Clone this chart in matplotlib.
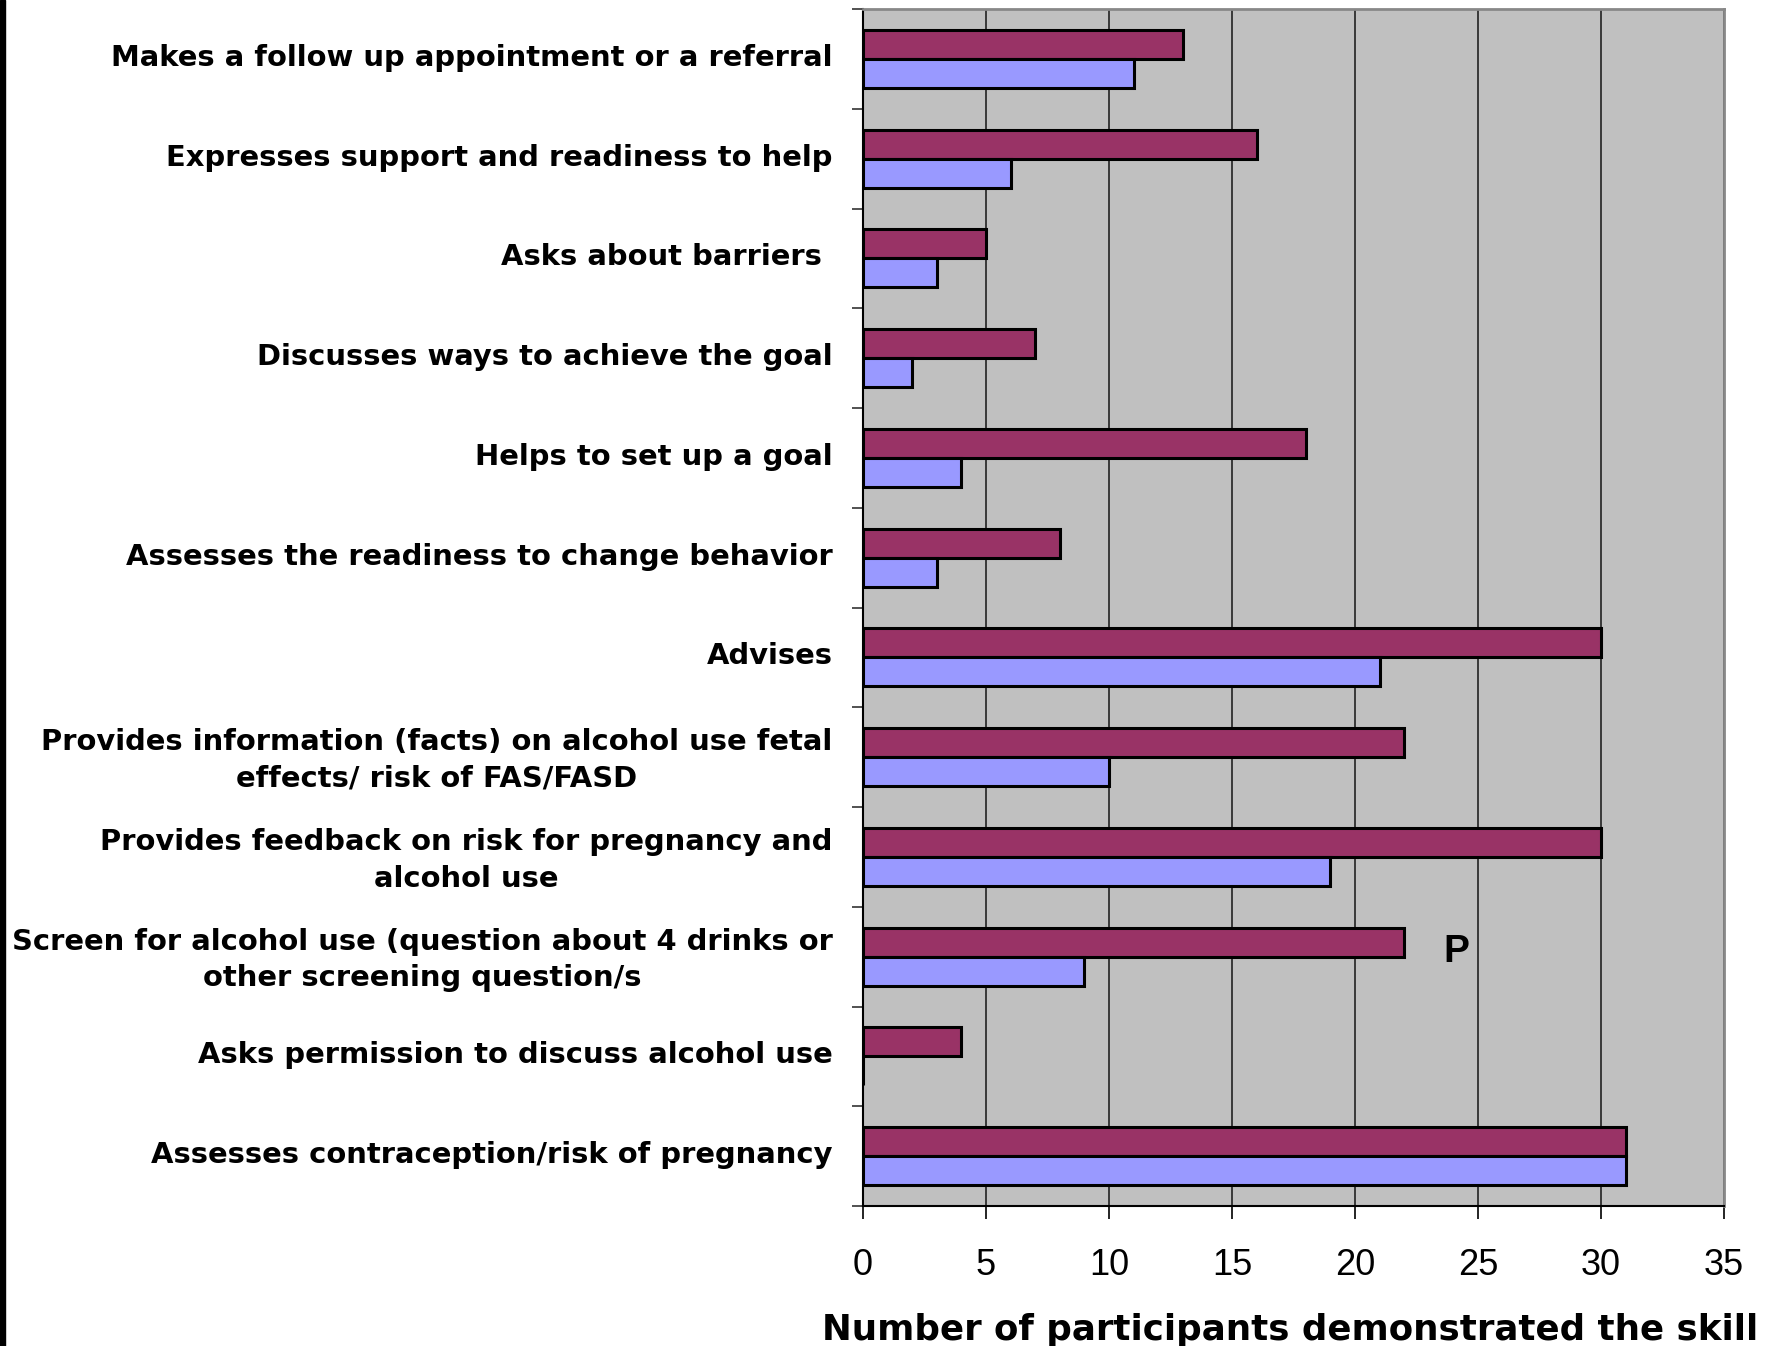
import matplotlib
matplotlib.use("Agg")
import matplotlib.pyplot as plt
from matplotlib.patches import Rectangle
from matplotlib.transforms import ScaledTranslation
import numpy as np

plt.rcParams["font.family"] = ["Liberation Sans", "DejaVu Sans"]

# bottom to top
skills = [
    "Assesses contraception/risk of pregnancy",
    "Asks permission to discuss alcohol use",
    "Screen for alcohol use (question about 4 drinks or\nother screening question/s",
    "Provides feedback on risk for pregnancy and\nalcohol use",
    "Provides information (facts) on alcohol use fetal\neffects/ risk of FAS/FASD",
    "Advises",
    "Assesses the readiness to change behavior",
    "Helps to set up a goal",
    "Discusses ways to achieve the goal",
    "Asks about barriers ",
    "Expresses support and readiness to help",
    "Makes a follow up appointment or a referral",
]
maroon_vals = [31, 4, 22, 30, 22, 30, 8, 18, 7, 5, 16, 13]
blue_vals = [31, 0, 9, 19, 10, 21, 3, 4, 2, 3, 6, 11]
x_ticks = [0, 5, 10, 15, 20, 25, 30, 35]

W, H = 1781, 1346
fig = plt.figure(figsize=(W / 100, H / 100), dpi=100)
ax = fig.add_axes([863 / W, 140 / H, (1724 - 863) / W, (1337 - 140) / H])
ax.set_facecolor("#C0C0C0")

y = np.arange(len(skills))
h = 0.29
ax.barh(y + h / 2, maroon_vals, height=h, color="#993366", edgecolor="black", linewidth=2.2, zorder=3)
ax.barh(y - h / 2, blue_vals, height=h, color="#9999FF", edgecolor="black", linewidth=2.2, zorder=3)

ax.set_xlim(0, 35)
ax.set_ylim(-0.5, len(skills) - 0.5)
ax.set_xticks(x_ticks)
ax.set_xticklabels([str(t) for t in x_ticks], fontsize=26)
ax.xaxis.grid(True, color="#222222", linewidth=1.2, zorder=1)
ax.tick_params(axis="x", direction="out", length=9, width=1.2, pad=21)

ax.set_yticks(y)
ax.set_yticklabels(skills, fontsize=20.9, fontweight="bold", family="DejaVu Sans",
                   multialignment="center", linespacing=1.4)
ax.set_yticks(np.arange(len(skills) + 1) - 0.5, minor=True)
ax.tick_params(axis="y", which="major", length=0, pad=22)
ax.tick_params(axis="y", which="minor", length=8, width=1.2, color="#333333")
# labels sit a little above the band centre in the source
shift = ScaledTranslation(0, 4 / 100, fig.dpi_scale_trans)
for lab in ax.get_yticklabels():
    lab.set_transform(lab.get_transform() + shift)

# axis title, partly cut by the bottom edge as in the source image
fig.text(1758 / W, 1 - 1313 / H, "Number of participants demonstrated the skill",
         fontsize=25.7, fontweight="bold", family="DejaVu Sans", ha="right", va="top")

for s in ["top", "right"]:
    ax.spines[s].set_color("#888888")
    ax.spines[s].set_linewidth(2)
for s in ["left", "bottom"]:
    ax.spines[s].set_color("black")
    ax.spines[s].set_linewidth(1.5)

ax.text(24.1, 2.05, "P", fontsize=28, fontweight="bold", ha="center", va="center", zorder=4)

# black strip on the left edge
fig.add_artist(Rectangle((0, 0), 5 / W, 1, transform=fig.transFigure, color="black"))

fig.savefig("out.png", dpi=100)
